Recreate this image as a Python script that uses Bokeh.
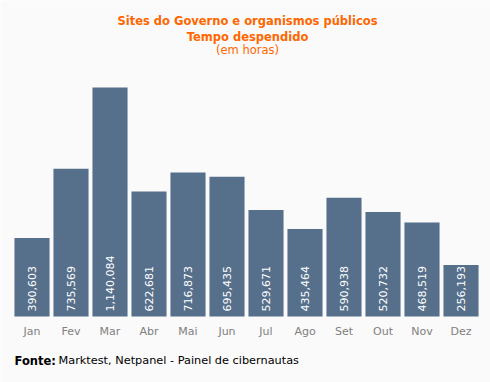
import math
from bokeh.plotting import figure
from bokeh.models import ColumnDataSource, Label, FactorRange, Range1d
from bokeh.core.properties import value
from bokeh.embed import file_html
from bokeh.resources import INLINE

months = ["Jan", "Fev", "Mar", "Abr", "Mai", "Jun", "Jul", "Ago", "Set", "Out", "Nov", "Dez"]
hours = [390603, 735569, 1140084, 622681, 716873, 695435, 529671, 435464, 590938, 520732, 468519, 256193]
labels = ["{:,}".format(v) for v in hours]
title_lines = ["Sites do Governo e organismos públicos", "Tempo despendido", "(em horas)"]
source_bold = "Fonte:"
source_text = "Marktest, Netpanel - Painel de cibernautas"

W, H = 490, 382
bg = "#fafafa"
bar_color = "#566f8b"
orange = "#ff6600"
font = "DejaVu Sans"

# layout: bar baseline at 316 px from top, 229 px for the tallest bar
base_px = 316
ppm = 229 / 1140084  # px per hour
y0 = -(H - base_px) / ppm
y1 = base_px / ppm
left_border = 2
ppx = 39.0  # px per category
pad = 10 / ppx

def ypx(py):  # y pixel from top -> data
    return y1 - py / ppm

def xpx(px):  # x pixel from left -> synthetic categorical coordinate
    return -pad + (px - left_border) / ppx

src = ColumnDataSource(dict(month=months, hours=hours, label=labels, zero=[0] * len(hours)))

p = figure(width=W, height=H,
           x_range=FactorRange(*months, range_padding=pad, range_padding_units="absolute"),
           y_range=Range1d(y0, y1), output_backend="svg", toolbar_location=None,
           min_border=0, min_border_left=left_border, min_border_right=0,
           min_border_top=0, min_border_bottom=0,
           background_fill_color=bg, border_fill_color=bg, outline_line_color=None)

p.vbar(x="month", top="hours", width=0.9, source=src, color=bar_color, line_color=None)
p.text(x="month", y="zero", text="label", source=src, angle=math.pi / 2,
       text_align="left", text_baseline="middle", y_offset=-5,
       text_color="white", text_font=value(font), text_font_size="11px")
p.text(x="month", y="zero", text="month", source=src, y_offset=15,
       text_align="center", text_baseline="middle",
       text_color="#808080", text_font=value(font), text_font_size="11px")

p.xaxis.visible = False
p.yaxis.visible = False
p.xgrid.visible = False
p.ygrid.visible = False

def lab(text, px, py, color, size, style="normal", align="left"):
    p.add_layout(Label(x=xpx(px), y=ypx(py), text=text,
                       text_font=font, text_font_size=size, text_color=color,
                       text_font_style=style, text_align=align, text_baseline="middle"))

lab(title_lines[0], 247, 20, orange, "11.5px", "bold", "center")
lab(title_lines[1], 247, 36, orange, "11.5px", "bold", "center")
lab(title_lines[2], 247, 49, orange, "11.5px", "normal", "center")
lab(source_bold, 14, 360, "#000000", "11.5px", "bold")
lab(source_text, 58, 360, "#000000", "11.3px")

open("out.html", "w").write(file_html(p, INLINE))
